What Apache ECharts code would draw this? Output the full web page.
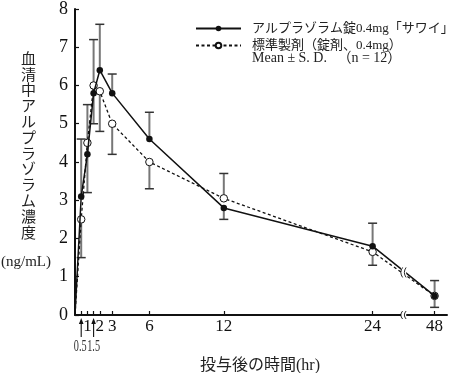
<!DOCTYPE html>
<html>
<head>
<meta charset="utf-8">
<script src="https://cdn.jsdelivr.net/npm/echarts@6/dist/echarts.min.js"></script>
<style>
html,body{margin:0;padding:0;background:#fff;}
#c{width:450px;height:373px;}
</style>
</head>
<body>
<div id="c"></div>
<script>
// ---- data ----
var times = [0, 0.5, 1, 1.5, 2, 3, 6, 12, 24, 48];
var testMean = [0, 3.1, 4.2, 5.8, 6.4, 5.8, 4.6, 2.8, 1.8, 0.5];
var refMean  = [0, 2.5, 4.5, 6.0, 5.85, 5.0, 4.0, 3.05, 1.65, 0.5];
// end value of each drawn error bar (for times[1..])
var testBarEnd = [4.6, 5.5, 7.2, 7.6, 6.3, 5.3, 2.5, 2.4, 0.9];
var refBarEnd  = [1.5, 3.2, 5.0, 4.8, 4.2, 3.3, 3.7, 1.3, 0.2];
var tickTimes  = [0.5, 1, 1.5, 2, 3, 6, 12, 24, 48];
var labelTimes = [1, 2, 3, 6, 12, 24, 48];
var labelTexts = ['1', '2', '3', '6', '12', '24', '48'];
var arrowTimes = [0.5, 1.5];
var arrowTexts = ['0.5', '1.5'];
var seriesNames = ['アルプラゾラム錠0.4mg「サワイ」', '標準製剤（錠剤、0.4mg）'];
var noteText = 'Mean ± S. D.   （n = 12）';
var yTitle = '血清中アルプラゾラム濃度';
var yUnit = '(ng/mL)';
var xTitle = '投与後の時間(hr)';

// broken axis: 24..48 compressed
var BREAK_FROM = 24, BREAK_TO = 48, BREAK_SPAN = 5;
function tx(t) { return t <= BREAK_FROM ? t : BREAK_FROM + (t - BREAK_FROM) * BREAK_SPAN / (BREAK_TO - BREAK_FROM); }

var SERIF = "'Liberation Serif','Noto Sans CJK JP',serif";

function lineData(means) {
  return times.map(function (t, i) { return [tx(t), means[i]]; });
}
function barData(means, ends) {
  return ends.map(function (e, i) { return [tx(times[i + 1]), means[i + 1], e]; });
}
var tickPos = tickTimes.map(tx);
var labelPos = labelTimes.map(tx);

function renderBar(params, api) {
  var p0 = api.coord([api.value(0), api.value(1)]);
  var p1 = api.coord([api.value(0), api.value(2)]);
  return {
    type: 'group',
    children: [
      { type: 'line', shape: { x1: p0[0], y1: p0[1], x2: p1[0], y2: p1[1] }, style: { stroke: '#777', lineWidth: 2 } },
      { type: 'line', shape: { x1: p1[0] - 4.5, y1: p1[1], x2: p1[0] + 4.5, y2: p1[1] }, style: { stroke: '#333', lineWidth: 1.5 } }
    ]
  };
}

var chart = echarts.init(document.getElementById('c'), null, { renderer: 'canvas' });
chart.setOption({
  animation: false,
  backgroundColor: '#fff',
  grid: { left: 75, right: 3, top: 7, bottom: 58, containLabel: false },
  legend: {
    orient: 'vertical', left: 190, top: 17, itemWidth: 45, itemHeight: 7, itemGap: 4,
    data: seriesNames,
    textStyle: { fontFamily: SERIF, fontSize: 13, color: '#222', padding: [0, 0, 0, 6] }
  },
  xAxis: {
    type: 'value', min: 0, max: 30,
    splitLine: { show: false },
    axisLine: { onZero: false, lineStyle: { color: '#111', width: 2 } },
    axisTick: { inside: true, length: 4, customValues: tickPos, lineStyle: { color: '#111', width: 1.2 } },
    axisLabel: {
      customValues: labelPos, margin: 3, color: '#111', fontFamily: SERIF, fontSize: 17,
      showMinLabel: true, showMaxLabel: true, hideOverlap: false,
      formatter: function (v) {
        var i = labelPos.indexOf(v);
        return i < 0 ? '' : labelTexts[i];
      }
    }
  },
  yAxis: {
    type: 'value', min: 0, max: 8, interval: 1,
    splitLine: { show: false },
    axisLine: { show: true, lineStyle: { color: '#111', width: 2 } },
    axisTick: { show: true, inside: true, length: 4, lineStyle: { color: '#111', width: 1.2 } },
    axisLabel: { margin: 7, color: '#111', fontFamily: SERIF, fontSize: 18 }
  },
  series: [
    { type: 'custom', name: 'errTest', renderItem: renderBar, data: barData(testMean, testBarEnd), z: 1, silent: true },
    { type: 'custom', name: 'errRef', renderItem: renderBar, data: barData(refMean, refBarEnd), z: 1, silent: true },
    {
      type: 'line', name: seriesNames[1], data: lineData(refMean), z: 3,
      symbol: 'circle', symbolSize: function (v) { return v[0] === 0 ? 0 : 7.5; },
      lineStyle: { color: '#111', width: 1.3, type: [3, 2.5] },
      itemStyle: { color: '#fff', borderColor: '#111', borderWidth: 1 }
    },
    {
      type: 'line', name: seriesNames[0], data: lineData(testMean), z: 4,
      symbol: 'circle', symbolSize: function (v) { return v[0] === 0 ? 0 : 6.5; },
      lineStyle: { color: '#111', width: 1.5 },
      itemStyle: { color: '#111', borderColor: '#111', borderWidth: 0 }
    }
  ]
});

// texts, arrow labels and axis-break marks placed through the chart's own scale
(function () {
  var xb = (tx(BREAK_FROM) + tx(BREAK_TO)) / 2;
  var last = times.length - 1;
  var frac = (xb - tx(times[last - 1])) / (tx(times[last]) - tx(times[last - 1]));
  function interp(m) { return m[last - 1] + (m[last] - m[last - 1]) * frac; }
  var yLine = (interp(testMean) + interp(refMean)) / 2;
  var pa = chart.convertToPixel({ gridIndex: 0 }, [xb, 0]);
  var pl = chart.convertToPixel({ gridIndex: 0 }, [xb, yLine]);
  function curve(x, y, h) {
    return { type: 'bezierCurve', z: 201, silent: true,
      shape: { x1: x + 1, y1: y - h / 2 + 1, x2: x + 1, y2: y + h / 2 - 1, cpx1: x - 2.5, cpy1: y },
      style: { stroke: '#111', lineWidth: 0.9, fill: null } };
  }
  function mark(p, h) {
    var x = p[0], y = p[1];
    return [
      { type: 'rect', z: 200, silent: true, shape: { x: x - 2.6, y: y - h / 2, width: 5.2, height: h }, style: { fill: '#fff' } },
      curve(x - 2, y, h),
      curve(x + 1.5, y, h)
    ];
  }
  var arrows = [];
  arrowTimes.forEach(function (t, i) {
    var p = chart.convertToPixel({ gridIndex: 0 }, [tx(t), 0]);
    var x = p[0], y = p[1];
    arrows.push(
      { type: 'line', z: 100, silent: true, shape: { x1: x, y1: y + 7, x2: x, y2: y + 22 }, style: { stroke: '#111', lineWidth: 1.1 } },
      { type: 'polygon', z: 100, silent: true, shape: { points: [[x, y + 3], [x - 2.3, y + 9], [x + 2.3, y + 9]] }, style: { fill: '#111' } },
      { type: 'text', z: 100, x: x + (i === 0 ? -1 : 0), y: y + 24, scaleX: 0.64, silent: true,
        style: { text: arrowTexts[i], fontFamily: SERIF, fontSize: 16, fill: '#333', align: 'center', verticalAlign: 'top' } }
    );
  });
  var els = [
    { type: 'text', left: 21, top: 52, z: 100,
      style: { text: yTitle.split('').join('\n'), fontFamily: SERIF, fontSize: 15, lineHeight: 15.8, fill: '#222', align: 'center' } },
    { type: 'text', left: 1, top: 255, z: 100,
      style: { text: yUnit, fontFamily: SERIF, fontSize: 15, fill: '#222' } },
    { type: 'text', left: 200, top: 358, z: 100,
      style: { text: xTitle, fontFamily: SERIF, fontSize: 16, fill: '#222' } },
    { type: 'text', left: 252, top: 51, z: 100,
      style: { text: noteText, fontFamily: SERIF, fontSize: 14, fill: '#222' } }
  ].concat(arrows, mark(pa, 10), mark(pl, 12));
  chart.setOption({ graphic: els });
})();
</script>
</body>
</html>
